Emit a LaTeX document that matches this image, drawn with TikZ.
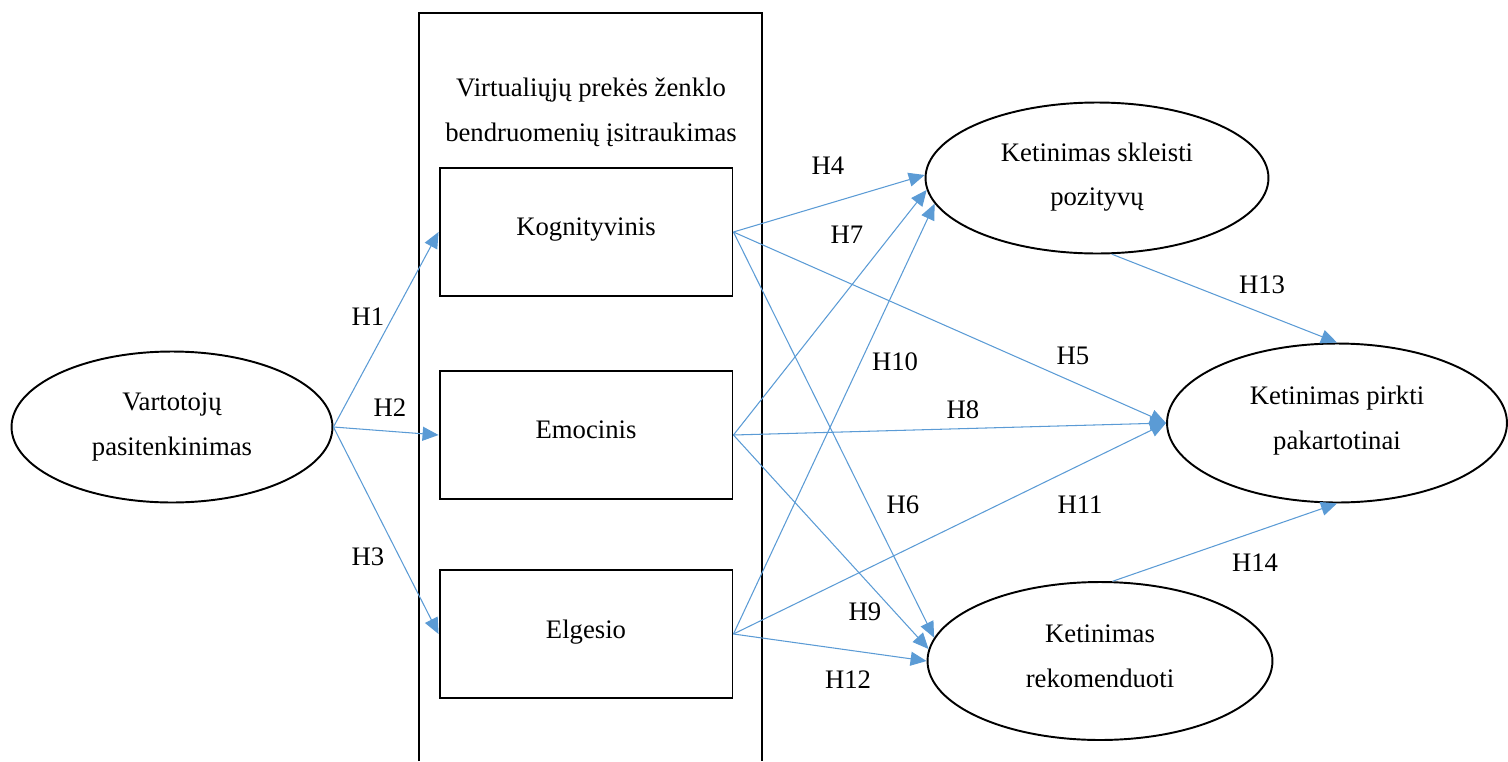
\documentclass[tikz,border=0pt]{standalone}
\usepackage{fontspec}
\setmainfont{Liberation Serif}
\usepackage{xcolor}
\usetikzlibrary{shapes,arrows.meta,positioning}
\definecolor{hypblue}{RGB}{91,155,213}

\begin{document}
\begin{tikzpicture}[x=0.02cm, y=-0.02cm,
    font=\fontsize{15.2}{25.5}\selectfont,
    box/.style={draw, line width=1.1pt, minimum width=5.86cm, minimum height=2.56cm, text depth=0.2cm},
    oval/.style={draw, ellipse, line width=1.1pt, align=center},
    hyp/.style={hypblue, line width=0.6pt, -{Triangle[length=0.32cm, width=0.28cm]}}]
    \useasboundingbox (0,0) rectangle (1508,761);

    % Engagement frame
    \draw [line width=1.1pt] (419,761) |- (762,13) -- (762,761);
    \node [align=center] (title) at (591,112) {Virtualiųjų prekės ženklo\\bendruomenių įsitraukimas};
    \node [box] (kog) at (586,232) {Kognityvinis};
    \node [box] (emo) at (586,435) {Emocinis};
    \node [box] (elg) at (586,634) {Elgesio};

    % Constructs
    \node [oval, minimum width=6.42cm, minimum height=3.02cm] (sat) at (172,427) {Vartotojų\\pasitenkinimas};
    \node [oval, minimum width=6.86cm, minimum height=3.02cm, text depth=0.15cm] (spread) at (1097,178) {Ketinimas skleisti\\pozityvų};
    \node [oval, minimum width=6.8cm, minimum height=3.18cm, text depth=0.2cm] (buy) at (1337,423) {Ketinimas pirkti\\pakartotinai};
    \node [oval, minimum width=6.9cm, minimum height=3.16cm, text depth=0.2cm] (rec) at (1100,661) {Ketinimas\\rekomenduoti};

    % Hypotheses
    \draw [hyp] (sat.east) -- (kog.west);
    \draw [hyp] (sat.east) -- (emo.west);
    \draw [hyp] (sat.east) -- (elg.west);
    \draw [hyp] (kog.east) -- (spread.179);
    \draw [hyp] (kog.east) -- (buy.west);
    \draw [hyp] (kog.east) -- (rec.172);
    \draw [hyp] (emo.east) -- (spread.184);
    \draw [hyp] (emo.east) -- (buy.west);
    \draw [hyp] (emo.east) -- (rec.176);
    \draw [hyp] (elg.east) -- (spread.189);
    \draw [hyp] (elg.east) -- (buy.west);
    \draw [hyp] (elg.east) -- (rec.west);
    \draw [hyp] (spread.281) -- (buy.north);
    \draw [hyp] (rec.81) -- (buy.south);

    % Labels
    \node (lh1) at (368,317) {H1};
    \node (lh2) at (390,408) {H2};
    \node (lh3) at (368,557) {H3};
    \node (lh4) at (828,166) {H4};
    \node (lh5) at (1073,356) {H5};
    \node (lh6) at (903,505) {H6};
    \node (lh7) at (847,235) {H7};
    \node (lh8) at (963,410) {H8};
    \node (lh9) at (865,612) {H9};
    \node (lh10) at (895,362) {H10};
    \node (lh11) at (1080,505) {H11};
    \node (lh12) at (848,680) {H12};
    \node (lh13) at (1262,285) {H13};
    \node (lh14) at (1255,563) {H14};
\end{tikzpicture}
\end{document}
